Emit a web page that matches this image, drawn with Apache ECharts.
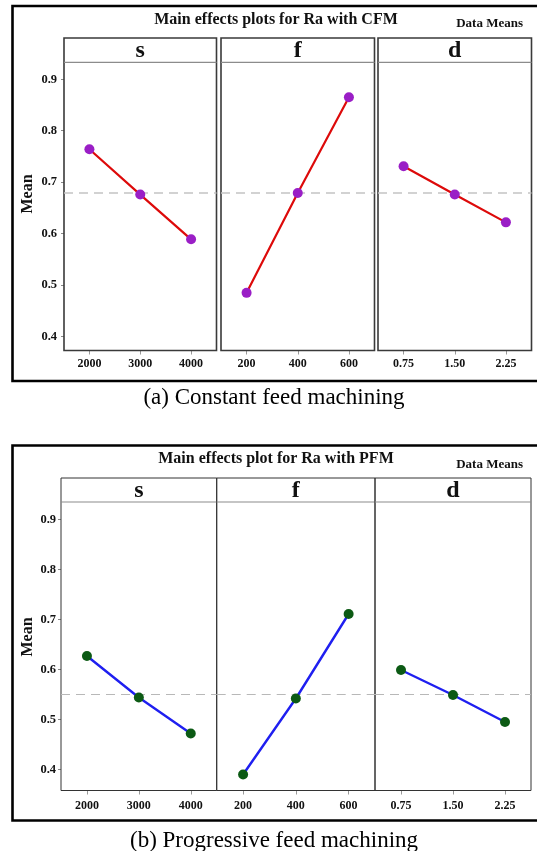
<!DOCTYPE html>
<html>
<head>
<meta charset="utf-8">
<title>Main effects plots for Ra</title>
<script src="https://cdn.jsdelivr.net/npm/echarts@6/dist/echarts.min.js"></script>
<style>
  html, body { margin: 0; padding: 0; background: #ffffff; }
  #chart { width: 537px; height: 851px; }
</style>
</head>
<body>
<div id="chart"></div>
<script>
// Factor names and their levels
const factorNames = ['s', 'f', 'd'];
const sLevels = ['2000', '3000', '4000'];
const fLevels = ['200', '400', '600'];
const dLevels = ['0.75', '1.50', '2.25'];

// Mean Ra for constant feed machining (CFM)
const cfmS = [0.764, 0.676, 0.589];
const cfmF = [0.485, 0.679, 0.865];
const cfmD = [0.731, 0.676, 0.622];

// Mean Ra for progressive feed machining (PFM)
const pfmS = [0.627, 0.544, 0.472];
const pfmF = [0.390, 0.542, 0.711];
const pfmD = [0.599, 0.549, 0.495];

// Tick labels on the Mean axis
const meanTicks = [0.4, 0.5, 0.6, 0.7, 0.8, 0.9];

const titles = ['Main effects plots for Ra with CFM', 'Main effects plot for Ra with PFM'];
const captions = ['(a) Constant feed machining', '(b) Progressive feed machining'];

const SERIF = '"Liberation Serif", "Times New Roman", serif';

// Panel geometry of the two figures
const figures = [
  {
    levels: [sLevels, fLevels, dLevels],
    values: [cfmS, cfmF, cfmD],
    frame: { x: 12.5, y: 6, h: 375 },
    titleY: 20, dmY: 24, capY: 398,
    headTop: 38, top: 62.3, bottom: 350.5,
    panels: [[64, 216.5], [221, 374.5], [378, 531.5]],
    yMin: 0.373, yMax: 0.933,
    meanY: 194,
    lineColor: '#dd0a0a', lineWidth: 2.2,
    dotColor: '#9a1ec6', dotSize: 10,
    refColor: '#c4c4c4', refWidth: 1.6, refDash: [9, 6],
    panelStroke: '#3a3a3a', panelWidth: 1.6,
    labelMargin: 7, yMargin: 7
  },
  {
    levels: [sLevels, fLevels, dLevels],
    values: [pfmS, pfmF, pfmD],
    frame: { x: 12.5, y: 445.5, h: 375 },
    titleY: 459, dmY: 465, capY: 841,
    headTop: 478, top: 502, bottom: 790.5,
    panels: [[61, 216.7], [216.7, 375], [375, 531]],
    yMin: 0.358, yMax: 0.935,
    meanY: 637,
    lineColor: '#1f1ff0', lineWidth: 2.4,
    dotColor: '#0c5a14', dotSize: 10,
    refColor: '#b8b8b8', refWidth: 1.2, refDash: [9, 6],
    panelStroke: '#333333', panelWidth: 1,
    labelMargin: 9, yMargin: 5
  }
];

const grids = [], xAxes = [], yAxes = [], series = [], graphics = [];

figures.forEach((fig, fi) => {
  const all = fig.values.flat();
  const grandMean = all.reduce((a, b) => a + b, 0) / all.length;

  // outer frame, left/top/bottom visible, right side runs past the page edge
  graphics.push({
    type: 'rect', z: 0,
    shape: { x: fig.frame.x, y: fig.frame.y, width: 540, height: fig.frame.h },
    style: { fill: 'none', stroke: '#000', lineWidth: 2.6 }
  });
  graphics.push({
    type: 'text', z: 5, x: 276, y: fig.titleY,
    style: { text: titles[fi], font: 'bold 16px ' + SERIF, fill: '#111', align: 'center', verticalAlign: 'middle' }
  });
  graphics.push({
    type: 'text', z: 5, x: 523, y: fig.dmY,
    style: { text: 'Data Means', font: 'bold 13px ' + SERIF, fill: '#111', align: 'right', verticalAlign: 'middle' }
  });
  graphics.push({
    type: 'text', z: 5, x: 274, y: fig.capY,
    style: { text: captions[fi], font: '23px ' + SERIF, fill: '#000', align: 'center', verticalAlign: 'middle' }
  });
  graphics.push({
    type: 'text', z: 5, x: 28, y: fig.meanY, rotation: Math.PI / 2,
    style: { text: 'Mean', font: 'bold 16px ' + SERIF, fill: '#111', align: 'center', verticalAlign: 'middle' }
  });

  fig.panels.forEach((p, pi) => {
    const idx = fi * 3 + pi;
    const left = p[0], right = p[1];

    // panel box with its header strip
    graphics.push({
      type: 'rect', z: 1,
      shape: { x: left, y: fig.headTop, width: right - left, height: fig.bottom - fig.headTop },
      style: { fill: 'none', stroke: fig.panelStroke, lineWidth: fig.panelWidth }
    });
    graphics.push({
      type: 'line', z: 1,
      shape: { x1: left, y1: fig.top, x2: right, y2: fig.top },
      style: { stroke: '#8c8c8c', lineWidth: 1.2 }
    });
    graphics.push({
      type: 'text', z: 5, x: (left + right) / 2, y: (fig.headTop + fig.top) / 2 + 1,
      style: { text: factorNames[pi], font: 'bold 24px ' + SERIF, fill: '#111', align: 'center', verticalAlign: 'middle' }
    });

    grids.push({
      left: left, top: fig.top, width: right - left, height: fig.bottom - fig.top,
      show: false, containLabel: false
    });

    xAxes.push({
      type: 'category', gridIndex: idx, data: fig.levels[pi], boundaryGap: true,
      axisLine: { show: false },
      axisTick: { show: true, alignWithLabel: true, length: 4, lineStyle: { color: '#999', width: 1 } },
      axisLabel: { margin: fig.labelMargin, color: '#111', fontFamily: SERIF, fontWeight: 'bold', fontSize: 12 },
      splitLine: { show: false }
    });

    yAxes.push({
      type: 'value', gridIndex: idx, min: fig.yMin, max: fig.yMax,
      show: pi === 0,
      axisLine: { show: false },
      axisTick: { show: true, length: 3, customValues: meanTicks, lineStyle: { color: '#888' } },
      axisLabel: {
        customValues: meanTicks, margin: fig.yMargin,
        color: '#111', fontFamily: SERIF, fontWeight: 'bold', fontSize: 12.5,
        formatter: v => v.toFixed(1)
      },
      splitLine: { show: false }
    });

    series.push({
      type: 'line', xAxisIndex: idx, yAxisIndex: idx, z: 3,
      data: fig.values[pi],
      symbol: 'circle', symbolSize: fig.dotSize,
      lineStyle: { color: fig.lineColor, width: fig.lineWidth },
      itemStyle: { color: fig.dotColor },
      emphasis: { disabled: true },
      markLine: {
        silent: true, symbol: 'none', z: 1,
        label: { show: false },
        lineStyle: { color: fig.refColor, width: fig.refWidth, type: fig.refDash },
        data: [{ yAxis: grandMean }]
      }
    });
  });
});

const chart = echarts.init(document.getElementById('chart'), null, { renderer: 'canvas' });
chart.setOption({
  animation: false,
  backgroundColor: '#ffffff',
  grid: grids,
  xAxis: xAxes,
  yAxis: yAxes,
  series: series,
  graphic: graphics
});
</script>
</body>
</html>
